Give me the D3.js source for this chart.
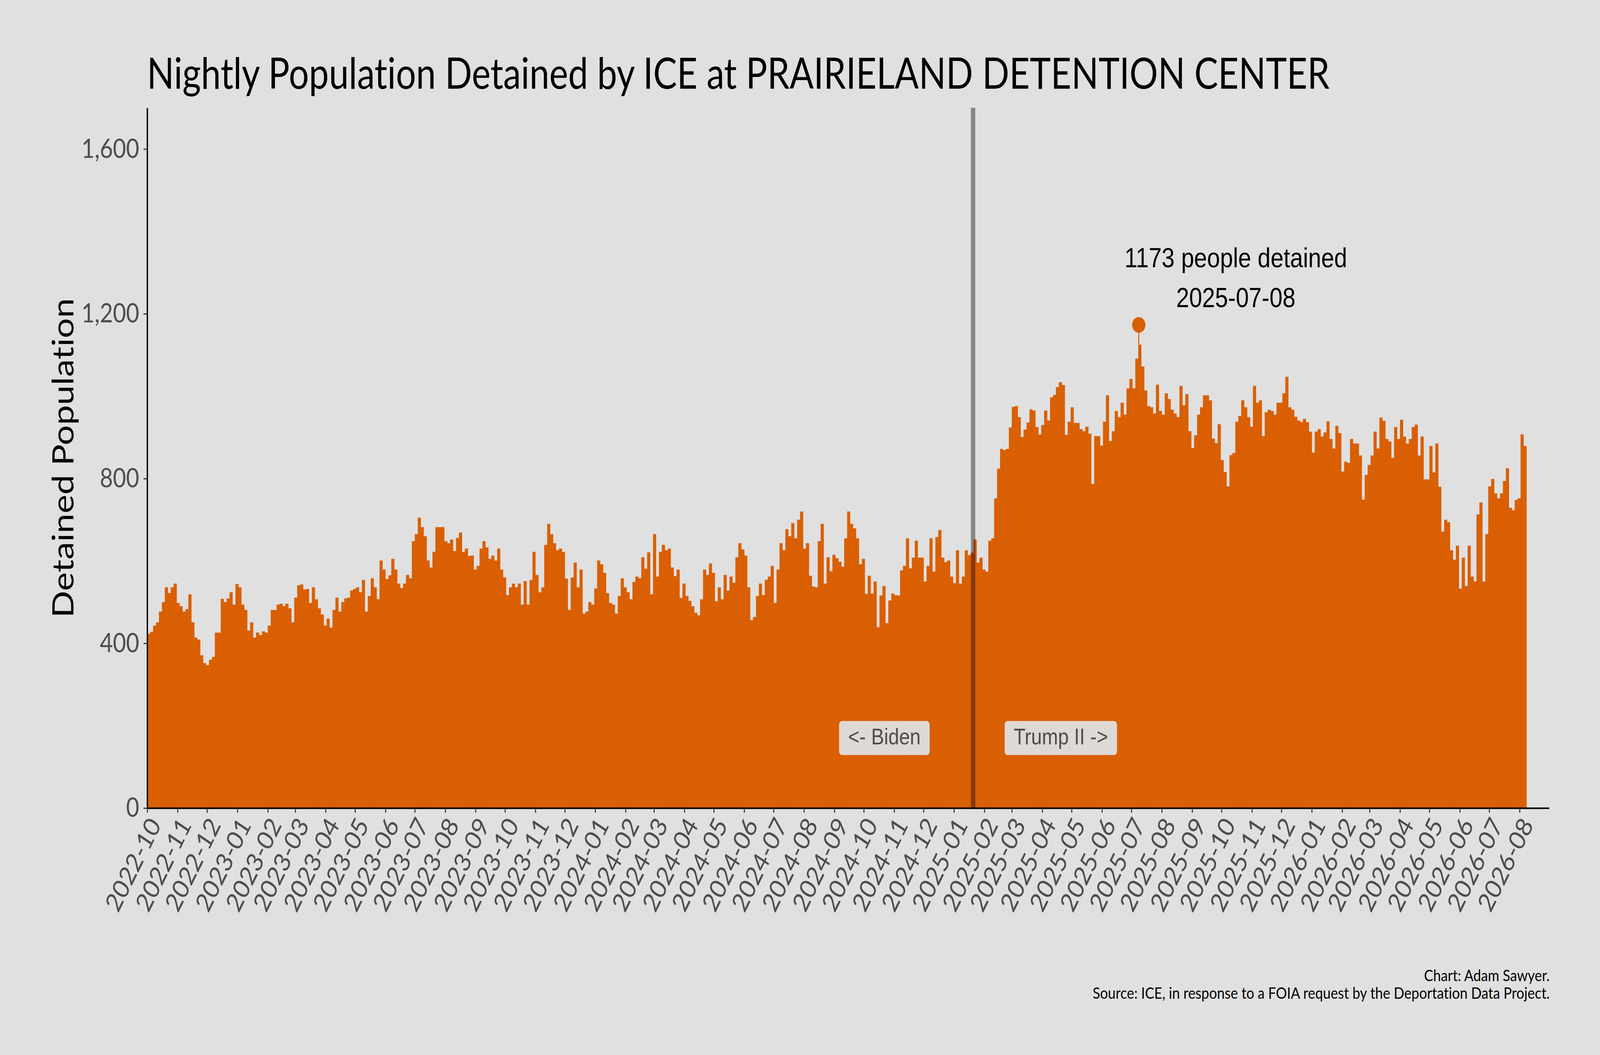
<!DOCTYPE html>
<html>
<head>
<meta charset="utf-8">
<script src="https://cdn.jsdelivr.net/npm/d3@7"></script>
<style>
  html, body { margin: 0; padding: 0; background: #e0e0e0; overflow: hidden; }
  svg { display: block; width: 100vw; height: 100vh; }
  text { font-variant-ligatures: none; }
</style>
</head>
<body>
<script>

var width = 4800
var height = 2700

// data: nightly population, one value per 3-day block starting at startDate
var startDate = "2022-10-01"
var stepDays = 3
var population = [
  423,428,443,451,477,500,536,522,536,545,498,490,477,483,519,451,414,409,371,352,
  347,360,367,426,426,508,500,509,524,494,544,536,494,481,431,451,414,426,420,429,
  426,443,481,481,494,496,490,496,485,451,511,541,543,531,532,498,536,507,485,470,
  443,460,438,481,511,477,500,509,511,528,532,536,524,554,477,515,558,536,
  507,601,579,556,565,605,579,545,534,545,566,558,648,665,705,682,660,601,584,622,
  682,682,682,648,643,652,624,656,669,622,630,612,613,579,588,630,648,633,605,613,
  601,630,579,560,517,536,545,536,545,494,551,494,554,622,566,524,536,639,690,665,
  643,626,630,622,557,481,560,596,536,579,472,477,500,494,533,601,592,571,
  522,498,494,472,515,558,536,524,507,549,562,558,609,581,621,519,665,562,622,639,
  626,630,584,563,579,510,545,515,503,490,474,468,507,579,566,594,571,502,536,507,
  566,528,562,547,609,643,628,613,536,456,464,515,545,517,554,562,588,498,579,643,
  626,677,660,692,655,700,720,630,643,564,538,536,648,690,545,609,575,615,
  607,598,586,655,720,690,679,655,592,605,520,564,521,550,439,516,539,449,504,521,
  517,516,577,588,655,582,608,649,608,608,550,588,655,574,658,675,608,597,601,562,
  546,626,545,562,626,614,620,652,596,608,579,574,649,655,752,824,872,869,872,924,
  974,976,949,901,919,936,968,965,925,907,930,965,941,997,1003,1022,1034,1027,
  906,938,973,935,935,920,915,926,909,787,903,903,880,938,1002,891,915,964,949,984,
  955,1019,1042,1019,1091,1125,1072,1014,976,973,958,1028,964,955,1007,993,967,958,949,1025,
  978,1005,915,874,905,955,973,1002,1002,990,897,886,932,845,816,781,857,862,938,952,
  990,973,949,926,1025,984,990,903,961,967,964,955,984,984,1007,1047,973,967,
  950,941,937,945,937,914,863,914,920,902,912,939,896,873,928,910,817,841,838,896,
  885,885,856,749,809,833,856,914,873,948,940,896,890,850,925,896,943,902,885,896,
  925,931,856,902,798,798,879,815,885,780,671,700,694,626,603,637,533,608,539,637,
  562,550,713,742,550,665,781,799,764,752,764,794,825,729,723,748,752,907,879
]

var xLimits = ["2022-10-01", "2026-08-31"]
var tickEnd = "2026-08-02"
var yTicks = [0, 400, 800, 1200, 1600]
var yMax = 1700

var peakDate = "2025-07-08"
var peakValue = 1173

var eraDate = "2025-01-20"
var eraLabels = ["<- Biden", "Trump II ->"]
var eraShiftDays = [-90, 90]
var eraLabelValue = 170

var titleText = "Nightly Population Detained by ICE at PRAIRIELAND DETENTION CENTER"
var yTitle = "Detained Population"
var captionLines = ["Chart: Adam Sawyer.",
  "Source: ICE, in response to a FOIA request by the Deportation Data Project."]

var parse = d3.utcParse("%Y-%m-%d")

// SVG, stretched over the whole window
var svg = d3.select("body")
            .append("svg")
            .attr("viewBox", "0 0 " + width + " " + height)
            .attr("preserveAspectRatio", "none")

svg.append("rect")
  .attr("width", width)
  .attr("height", height)
  .attr("fill", "#e0e0e0")

var margin = {top: 276, bottom: 632, left: 441.6, right: 153}

var x = d3.scaleUtc()
  .domain(xLimits.map(parse))
  .range([margin.left, width - margin.right])
var y = d3.scaleLinear()
  .domain([0, yMax])
  .range([height - margin.bottom, margin.top])

var start = parse(startDate)
var blocks = population.map(function(v, i){
  return {date: d3.utcDay.offset(start, i * stepDays), value: v}
})

// bars
svg.append("g")
  .selectAll("rect.bar")
  .data(blocks)
  .enter()
  .append("rect")
  .classed("bar", true)
  .attr("x", function(d){ return x(d.date) })
  .attr("y", function(d){ return y(d.value) })
  .attr("width", function(d){ return x(d3.utcDay.offset(d.date, stepDays)) - x(d.date) + 0.6 })
  .attr("height", function(d){ return y(0) - y(d.value) })
  .attr("fill", "#d95f02")

// peak night
var peak = d3.utcHour.offset(parse(peakDate), 12)
svg.append("line")
  .attr("x1", x(peak)).attr("x2", x(peak))
  .attr("y1", y(peakValue)).attr("y2", y(0))
  .attr("stroke", "#d95f02")
  .attr("stroke-width", 3)
svg.append("circle")
  .attr("cx", x(peak))
  .attr("cy", y(peakValue))
  .attr("r", 20)
  .attr("fill", "#d95f02")

var note = svg.append("text")
  .attr("text-anchor", "middle")
  .attr("font-family", "Liberation Sans, Arial, sans-serif")
  .attr("font-size", 70)
  .attr("fill", "#000")
note.append("tspan")
  .attr("x", x(d3.utcDay.offset(peak, 99)))
  .attr("y", y(peakValue + 140))
  .text(peakValue + " people detained")
note.append("tspan")
  .attr("x", x(d3.utcDay.offset(peak, 99)))
  .attr("y", y(peakValue + 43))
  .text(peakDate)

// inauguration line
var era = d3.utcHour.offset(parse(eraDate), 12)
svg.append("line")
  .attr("x1", x(era)).attr("x2", x(era))
  .attr("y1", y(yMax)).attr("y2", y(0))
  .attr("stroke", "#000")
  .attr("stroke-opacity", 0.4)
  .attr("stroke-width", 13)

eraLabels.forEach(function(label, i){
  var cx = x(d3.utcDay.offset(parse(eraDate), eraShiftDays[i]))
  var cy = y(eraLabelValue)
  var g = svg.append("g")
  var t = g.append("text")
    .attr("x", cx)
    .attr("y", cy + 16)
    .attr("text-anchor", "middle")
    .attr("font-family", "Liberation Sans, Arial, sans-serif")
    .attr("font-size", 58)
    .attr("fill", "#4d4d4d")
    .text(label)
  var w = t.node().getComputedTextLength() + 54
  g.insert("rect", "text")
    .attr("x", cx - w / 2)
    .attr("y", cy - 43.5)
    .attr("width", w)
    .attr("height", 87)
    .attr("rx", 9)
    .attr("fill", "#dfd9d5")
})

// axes
var xAxis = svg.append("g")
  .attr("transform", "translate(0," + y(0) + ")")
  .call(d3.axisBottom(x)
    .tickValues(d3.utcMonth.range(parse(xLimits[0]), parse(tickEnd)))
    .tickFormat(d3.utcFormat("%Y-%m"))
    .tickSize(12)
    .tickSizeOuter(0))

var yAxis = svg.append("g")
  .attr("transform", "translate(" + margin.left + ",0)")
  .call(d3.axisLeft(y)
    .tickValues(yTicks)
    .tickFormat(d3.format(","))
    .tickSize(11)
    .tickPadding(13)
    .tickSizeOuter(0))

svg.selectAll(".domain")
  .attr("stroke", "#000")
  .attr("stroke-width", 4)
svg.selectAll(".tick line")
  .attr("stroke", "#333")
  .attr("stroke-width", 3)

yAxis.selectAll("text")
  .attr("font-family", "Lato, sans-serif")
  .attr("font-size", 68)
  .attr("fill", "#4d4d4d")

xAxis.selectAll("text")
  .attr("font-family", "Lato, sans-serif")
  .attr("font-size", 68)
  .attr("fill", "#4d4d4d")
  .attr("text-anchor", "end")
  .attr("transform", "rotate(-60)")
  .attr("x", -16)
  .attr("y", 59)
  .attr("dy", 0)

// titles
svg.append("text")
  .attr("x", 441)
  .attr("y", 227)
  .attr("font-family", "Lato, sans-serif")
  .attr("font-size", 110)
  .attr("fill", "#000")
  .attr("textLength", 3548)
  .attr("lengthAdjust", "spacingAndGlyphs")
  .text(titleText)

svg.append("text")
  .attr("transform", "translate(220," + (margin.top + y(0)) / 2 + ") rotate(-90)")
  .attr("text-anchor", "middle")
  .attr("font-family", "Lato, sans-serif")
  .attr("font-size", 88)
  .attr("fill", "#000")
  .attr("textLength", 818)
  .attr("lengthAdjust", "spacingAndGlyphs")
  .text(yTitle)

var captionWidths = [377, 1371]
captionLines.forEach(function(line, i){
  svg.append("text")
    .attr("x", 4649)
    .attr("y", 2511 + i * 45)
    .attr("text-anchor", "end")
    .attr("font-family", "Lato, sans-serif")
    .attr("font-size", 41)
    .attr("fill", "#000")
    .attr("textLength", captionWidths[i])
    .attr("lengthAdjust", "spacingAndGlyphs")
    .text(line)
})

</script>
</body>
</html>
